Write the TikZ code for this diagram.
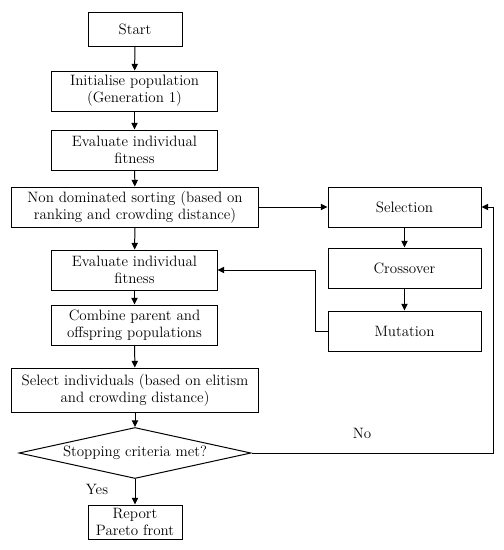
\documentclass[tikz,border=0pt]{standalone}
\usetikzlibrary{arrows.meta, shapes.geometric}

\begin{document}
\begin{tikzpicture}[
  x=0.03cm, y=-0.03cm,
  stepbox/.style={
    rectangle, draw=black, line width=0.85pt, fill=white,
    minimum width=4.95cm, minimum height=1.2cm, inner sep=1pt,
    align=center, font=\fontsize{12.8}{14.8}\selectfont
  },
  widebox/.style={stepbox, minimum width=7.38cm},
  endbox/.style={stepbox, minimum width=2.82cm, minimum height=1.02cm},
  gabox/.style={stepbox, minimum width=4.59cm},
  testnode/.style={
    diamond, draw=black, line width=0.85pt, fill=white, aspect=4.5,
    minimum width=6.96cm, minimum height=1.53cm, inner sep=0pt,
    font=\fontsize{12.8}{14.8}\selectfont
  },
  flow/.style={-{Triangle[length=2mm, width=1.9mm]}, draw=black, line width=0.85pt},
  lbl/.style={font=\fontsize{12.8}{14.8}\selectfont}
]
\useasboundingbox (0,0) rectangle (504,550);

% ============================================================
% Main column
\node[endbox]   (start)  at (135,29)    {Start};
\node[stepbox]  (init)   at (134.5,91)  {Initialise population\\(Generation 1)};
\node[stepbox]  (evalA)  at (134.5,150) {Evaluate individual\\fitness};
\node[widebox]  (sort)   at (135,207)   {Non dominated sorting (based on\\ranking and crowding distance)};
\node[stepbox]  (evalB)  at (134.5,270) {Evaluate individual\\fitness};
\node[stepbox]  (merge)  at (134.5,325) {Combine parent and\\offspring populations};
\node[widebox, minimum height=1.32cm] (elite) at (135,390)
  {Select individuals (based on elitism\\and crowding distance)};
\node[testnode] (stop)   at (135,453)   {Stopping criteria met?};
\node[endbox]   (report) at (135,522)   {Report\\Pareto front};

% Genetic operators on the right
\node[gabox] (select) at (404.5,207) {Selection};
\node[gabox] (cross)  at (404.5,268) {Crossover};
\node[gabox] (mutate) at (404.5,331) {Mutation};

% ============================================================
% Straight connectors
\draw[flow] (start)  -- (init);
\draw[flow] (init)   -- (evalA);
\draw[flow] (evalA)  -- (sort);
\draw[flow] (sort)   -- (evalB);
\draw[flow] (evalB)  -- (merge);
\draw[flow] (merge)  -- (elite);
\draw[flow] (elite)  -- (stop);
\draw[flow] (stop)   -- (report);
\draw[flow] (sort.east) -- (select.west);
\draw[flow] (select) -- (cross);
\draw[flow] (cross)  -- (mutate);

% Elbow connectors
\draw[flow] (mutate.west) -- ++(-12,0) |- (evalB.east);
\draw[flow] (stop.east) -- ++(242,0) |- (select.east);

% Branch labels
\node[lbl] (yes) at (97,489) {Yes};
\node[lbl] (no)  at (362,433) {No};

\end{tikzpicture}
\end{document}
